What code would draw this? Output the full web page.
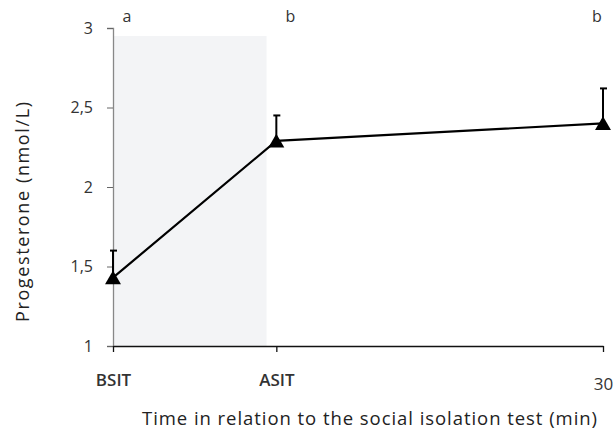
<!DOCTYPE html>
<html>
<head>
<meta charset="utf-8">
<script src="https://cdn.jsdelivr.net/npm/d3@7"></script>
<style>
  body { margin: 0; background: #fff; }
  text { font-family: "Open Sans", "Noto Sans", sans-serif; }
</style>
</head>
<body>
<div id="chart"></div>
<script>
// Data
const timeLabels = ["BSIT", "ASIT", "30"];
const timeMinutes = [0, 10, 30];
const meanValues = [1.43, 2.29, 2.40];
const errorUpper = [1.60, 2.45, 2.62];
const groupLetters = ["a", "b", "b"];
const yTicks = [1, 1.5, 2, 2.5, 3];

const width = 615;
const height = 435;
const margin = { top: 28, right: 12, bottom: 89, left: 113 };

const svg = d3
  .select("#chart")
  .append("svg")
  .attr("width", width)
  .attr("height", height);

// Scales
const x = d3
  .scaleLinear()
  .domain([0, 30])
  .range([margin.left, width - margin.right]);

const y = d3
  .scaleLinear()
  .domain([1, 3])
  .range([height - margin.bottom, margin.top]);

// Shaded isolation period
svg
  .append("rect")
  .attr("x", x(0))
  .attr("y", y(2.95))
  .attr("width", x(9.4) - x(0))
  .attr("height", y(1) - y(2.95))
  .attr("fill", "#f3f4f6");

// Y axis
const yAxis = svg
  .append("g")
  .attr("transform", `translate(${x(0)},0)`)
  .call(
    d3
      .axisLeft(y)
      .tickValues(yTicks)
      .tickSize(6)
      .tickPadding(14)
      .tickFormat((d) => String(d).replace(".", ","))
  );
yAxis.select(".domain").attr("stroke", "#888").attr("stroke-width", 1.3);
yAxis.selectAll(".tick line").attr("stroke", "#666");
yAxis
  .selectAll(".tick text")
  .attr("fill", "#333")
  .style("font-size", "16px");

// X axis
const xAxis = svg
  .append("g")
  .attr("transform", `translate(0,${y(1)})`)
  .call(
    d3
      .axisBottom(x)
      .tickValues(timeMinutes)
      .tickSize(6)
      .tickSizeOuter(0)
      .tickFormat((d, i) => timeLabels[i])
  );
xAxis.select(".domain").attr("stroke", "#111").attr("stroke-width", 1.3);
xAxis.selectAll(".tick line").attr("stroke", "#111").attr("stroke-width", 1.3);
xAxis
  .selectAll(".tick text")
  .attr("fill", "#333")
  .attr("y", (d, i) => (i === 2 ? 32 : 28))
  .style("font-size", "17px")
  .style("font-weight", (d, i) => (i === 2 ? 400 : 600));

// Line
const line = d3
  .line()
  .x((d, i) => x(timeMinutes[i]))
  .y((d) => y(d));

svg
  .append("path")
  .datum(meanValues)
  .attr("d", line)
  .attr("fill", "none")
  .attr("stroke", "#000")
  .attr("stroke-width", 2.2);

// Error bars (upper only)
svg
  .selectAll(".err")
  .data(meanValues)
  .enter()
  .append("line")
  .attr("class", "err")
  .attr("x1", (d, i) => x(timeMinutes[i]))
  .attr("x2", (d, i) => x(timeMinutes[i]))
  .attr("y1", (d) => y(d))
  .attr("y2", (d, i) => y(errorUpper[i]))
  .attr("stroke", "#000")
  .attr("stroke-width", 2);

svg
  .selectAll(".cap")
  .data(errorUpper)
  .enter()
  .append("line")
  .attr("class", "cap")
  .attr("x1", (d, i) => x(timeMinutes[i]) - 3)
  .attr("x2", (d, i) => x(timeMinutes[i]) + 4)
  .attr("y1", (d) => y(d))
  .attr("y2", (d) => y(d))
  .attr("stroke", "#000")
  .attr("stroke-width", 2);

// Triangle markers
svg
  .selectAll(".marker")
  .data(meanValues)
  .enter()
  .append("path")
  .attr("class", "marker")
  .attr("d", d3.symbol().type(d3.symbolTriangle).size(110))
  .attr("transform", (d, i) => `translate(${x(timeMinutes[i])},${y(d) + 2})`)
  .attr("fill", "#000");

// Group letters
svg
  .selectAll(".letter")
  .data(groupLetters)
  .enter()
  .append("text")
  .attr("class", "letter")
  .attr("x", (d, i) => x(timeMinutes[i]) + (i === 2 ? -6 : 14))
  .attr("y", 22)
  .attr("text-anchor", "middle")
  .attr("fill", "#333")
  .style("font-size", "16px")
  .text((d) => d);

// Axis titles
svg
  .append("text")
  .attr("x", 142)
  .attr("y", 425)
  .attr("textLength", 455)
  .attr("lengthAdjust", "spacing")
  .attr("fill", "#222")
  .style("font-size", "18.5px")
  .text("Time in relation to the social isolation test (min)");

svg
  .append("text")
  .attr("transform", `translate(29,322) rotate(-90)`)
  .attr("textLength", 220)
  .attr("lengthAdjust", "spacing")
  .attr("fill", "#222")
  .style("font-size", "18px")
  .text("Progesterone (nmol/L)");
</script>
</body>
</html>
